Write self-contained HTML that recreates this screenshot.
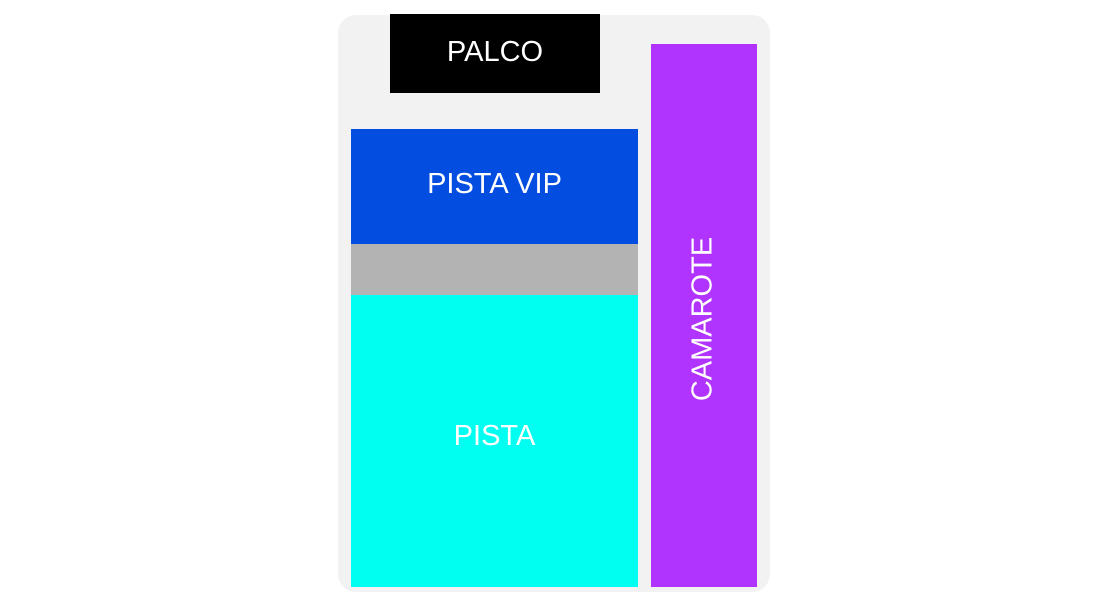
<!DOCTYPE html>
<html><head><meta charset="utf-8"><style>
body{margin:0;width:1108px;height:607px;background:#fff;position:relative;overflow:hidden;font-family:"Liberation Sans",sans-serif;}
div{position:absolute;box-sizing:border-box;}
.t{color:#fff;display:flex;align-items:center;justify-content:center;font-size:29px;}
</style></head><body>
<div style="left:338px;top:15px;width:432px;height:577px;background:#f2f2f2;border-radius:18px;"></div>
<div class="t" style="left:390px;top:14px;width:210px;height:76px;background:#000;">PALCO</div>
<div style="left:390px;top:89px;width:210px;height:4px;background:#000;"></div>
<div style="left:351px;top:129px;width:287px;height:115px;background:#034de1;"></div>
<div class="t" style="left:351px;top:129px;width:287px;height:111px;">PISTA VIP</div>
<div style="left:351px;top:244px;width:287px;height:51px;background:#b3b3b3;"></div>
<div style="left:351px;top:295px;width:287px;height:292px;background:#00fff0;"></div>
<div class="t" style="left:351px;top:295px;width:287px;height:282px;">PISTA</div>
<div style="left:651px;top:44px;width:106px;height:543px;background:#b134fe;"></div>
<div class="t" style="left:431px;top:297px;width:543px;height:44px;transform:rotate(-90deg);transform-origin:center;">CAMAROTE</div>
</body></html>
